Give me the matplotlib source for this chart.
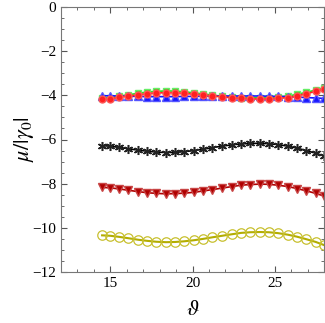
import matplotlib
matplotlib.use("Agg")
import matplotlib.pyplot as plt
from matplotlib.ticker import MultipleLocator

plt.rcParams['font.family'] = ['Liberation Serif', 'DejaVu Serif']
plt.rcParams['mathtext.fontset'] = 'stix'

# theta values (shared by all series)
theta = [14.5, 15.0, 15.55, 16.1, 16.7, 17.25, 17.8, 18.4, 18.95, 19.5, 20.1, 20.65,
         21.2, 21.8, 22.4, 22.95, 23.5, 24.1, 24.65, 25.2, 25.8, 26.35, 26.9, 27.5, 28.0]

green_sq = [-4.12, -4.10, -4.04, -3.97, -3.91, -3.85, -3.82, -3.80, -3.81, -3.84, -3.89, -3.94,
            -3.99, -4.04, -4.07, -4.10, -4.11, -4.11, -4.10, -4.07, -4.03, -3.96, -3.87, -3.76, -3.66]
blue_tri = [-4.02, -4.02, -4.03, -4.04, -4.05, -4.06, -4.06, -4.06, -4.06, -4.05, -4.05, -4.04,
            -4.04, -4.03, -4.03, -4.03, -4.03, -4.03, -4.04, -4.05, -4.06, -4.08, -4.10, -4.12, -4.14]
red_circ = [-4.17, -4.16, -4.09, -4.03, -3.98, -3.92, -3.89, -3.88, -3.88, -3.91, -3.95, -3.99,
            -4.03, -4.07, -4.11, -4.14, -4.16, -4.17, -4.16, -4.14, -4.10, -4.03, -3.93, -3.82, -3.72]
black_star = [-6.28, -6.30, -6.36, -6.42, -6.48, -6.53, -6.57, -6.59, -6.58, -6.55, -6.50, -6.44,
              -6.37, -6.30, -6.24, -6.20, -6.18, -6.17, -6.19, -6.23, -6.30, -6.39, -6.50, -6.62, -6.75]
darkred_tri = [-8.17, -8.19, -8.24, -8.30, -8.36, -8.41, -8.44, -8.46, -8.45, -8.43, -8.39, -8.33,
               -8.27, -8.20, -8.13, -8.07, -8.04, -8.02, -8.03, -8.07, -8.13, -8.22, -8.32, -8.44, -8.56]
yellow_circ = [-10.34, -10.36, -10.41, -10.47, -10.54, -10.59, -10.63, -10.65, -10.64, -10.61, -10.56, -10.50,
               -10.43, -10.36, -10.29, -10.23, -10.20, -10.19, -10.20, -10.24, -10.31, -10.40, -10.51, -10.64, -10.78]

fig = plt.figure(figsize=(3.25, 3.23), dpi=100)
ax = fig.add_axes([61 / 325, 51 / 323, 263 / 325, 265 / 323])

ax.plot(theta, green_sq, color='#22dd22', lw=1.2, marker='s', ms=4.5, mec='#66ee66', mfc='#22dd22')
ax.plot(theta, blue_tri, color='#1515ff', lw=1.2, marker='^', ms=5.5, mec='#5555ff', mfc='#1515ff')
ax.plot(theta, red_circ, color='#ff2020', lw=1.2, marker='o', ms=5, mec='#ff5555', mfc='#ff2020')
ax.plot(theta, black_star, color='black', lw=1.2, marker=(6, 2, 0), ms=6.5, mew=1.1, mec='#222222')
ax.plot(theta, darkred_tri, color='#b00000', lw=1.2, marker='v', ms=6, mec='#c84444', mfc='#b00000')
ax.plot(theta, yellow_circ, color='#b3ad00', lw=1.5, marker='o', ms=6.8, mfc='none', mec='#c8c030', mew=0.9)

ax.set_xlim(12, 28)
ax.set_ylim(-12, 0)
ax.xaxis.set_major_locator(MultipleLocator(5))
ax.xaxis.set_minor_locator(MultipleLocator(1))
ax.yaxis.set_major_locator(MultipleLocator(2))
ax.yaxis.set_minor_locator(MultipleLocator(0.5))
ax.tick_params(which='both', direction='in', top=True, right=True, colors='#555555',
               labelcolor='black', labelsize=11)
ax.tick_params(which='major', length=4)
ax.tick_params(which='minor', length=2)
for s in ax.spines.values():
    s.set_color('#777777')

ax.set_xlabel(r'$\vartheta$', fontsize=16, labelpad=8)
ax.set_ylabel(r'$\mu/|\gamma_0|$', fontsize=16, labelpad=-3)

fig.savefig('out.png', dpi=100)
